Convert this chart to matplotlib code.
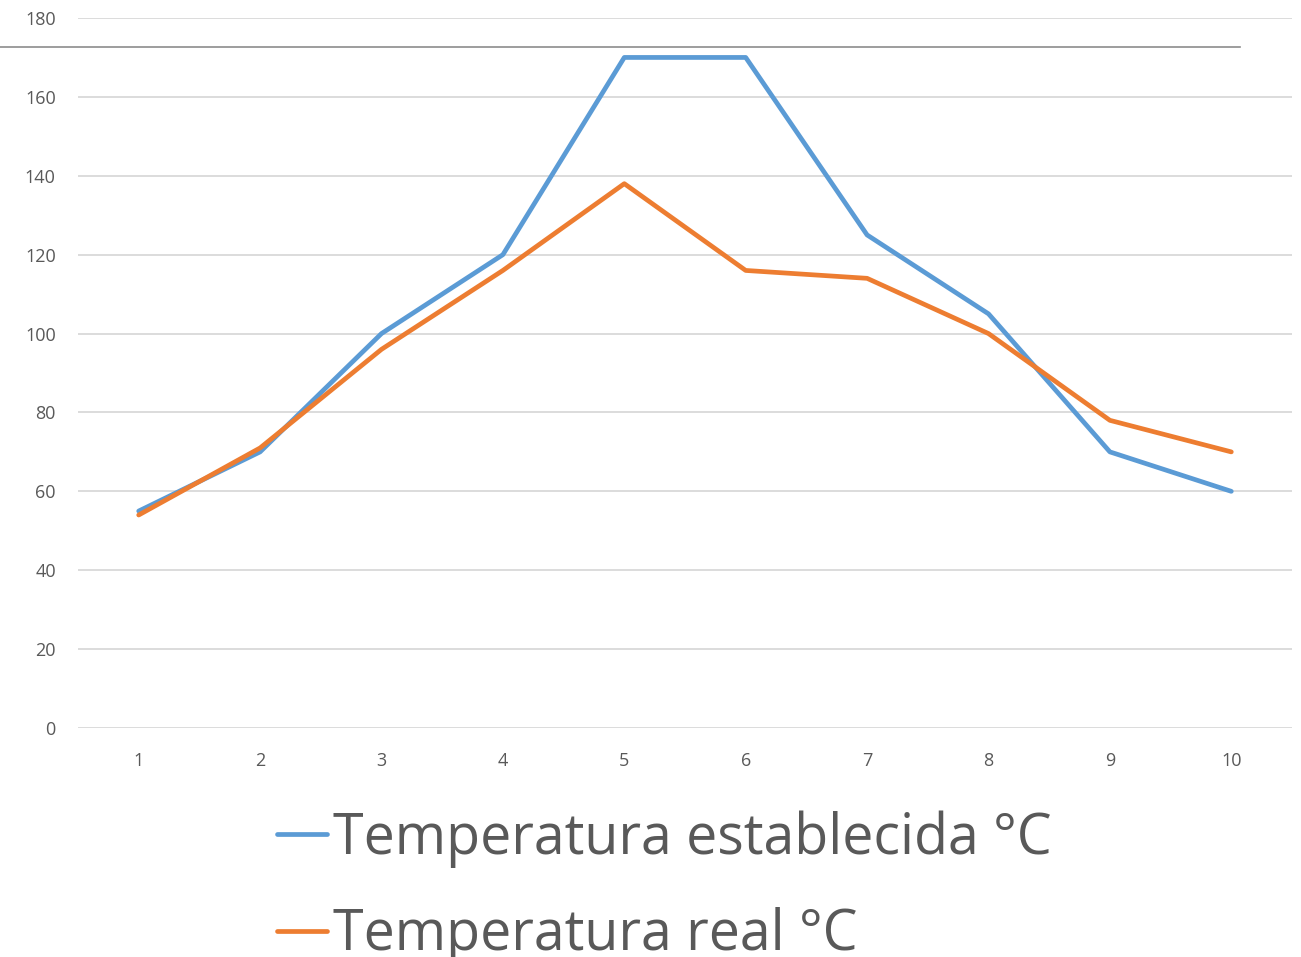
import matplotlib
matplotlib.use("Agg")
import matplotlib.pyplot as plt
import matplotlib.transforms as mtransforms

categories = [1, 2, 3, 4, 5, 6, 7, 8, 9, 10]
establecida = [55, 70, 100, 120, 170, 170, 125, 105, 70, 60]
real = [54, 71, 96, 116, 138, 116, 114, 100, 78, 70]
yticks = [0, 20, 40, 60, 80, 100, 120, 140, 160, 180]
ref_level = 172.7

plt.rcParams['font.family'] = ['Open Sans', 'DejaVu Sans']
fig = plt.figure(figsize=(13.01, 9.57), dpi=100)
ax = fig.add_axes([78/1301, 1-728/957, (1292-78)/1301, (728-18)/957])

for y in yticks:
    ax.axhline(y, color='#d9d9d9', lw=1.3, zorder=0)

l1, = ax.plot(categories, establecida, color='#5B9BD5', lw=3.4, label='Temperatura establecida °C', solid_capstyle='round', zorder=3)
l2, = ax.plot(categories, real, color='#ED7D31', lw=3.4, label='Temperatura real °C', solid_capstyle='round', zorder=3)

ax.set_xlim(0.5, 10.5)
ax.set_ylim(0, 180)
ax.set_xticks(categories)
ax.set_yticks(yticks)
ax.tick_params(axis='both', length=0, labelsize=13, labelcolor='#595959')
ax.tick_params(axis='y', pad=16)
ax.tick_params(axis='x', pad=17)
for s in ax.spines.values():
    s.set_visible(False)

trans = mtransforms.blended_transform_factory(fig.transFigure, ax.transData)
ax.plot([0, 1240/1301], [ref_level, ref_level], color='#8c8c8c', lw=1.2, transform=trans, clip_on=False)

leg = fig.legend(handles=[l1, l2], loc='upper left', bbox_to_anchor=(277/1301, 1-810/957),
                 frameon=False, fontsize=40, handlelength=0.9, handletextpad=0.1,
                 labelspacing=0.72, borderpad=0, borderaxespad=0)
for t in leg.get_texts():
    t.set_color('#595959')

fig.savefig('out.png', dpi=100)
